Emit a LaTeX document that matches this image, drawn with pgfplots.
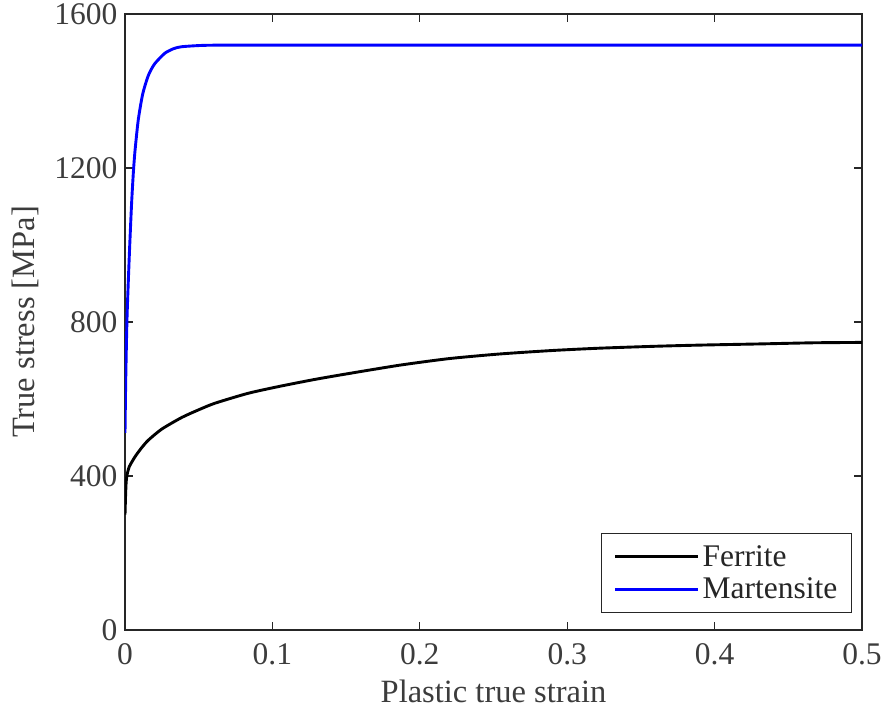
\documentclass[border=0pt]{standalone}
\usepackage{fontspec}
\setmainfont{Liberation Serif}
\usepackage{pgfplots}
\pgfplotsset{compat=1.18}
\definecolor{axgray}{RGB}{38,38,38}
\begin{document}
\begin{tikzpicture}
\begin{axis}[
  scale only axis,
  width=737pt, height=616pt,
  xmin=0, xmax=0.5, ymin=0, ymax=1600,
  xtick={0,0.1,0.2,0.3,0.4,0.5},
  ytick={0,400,800,1200,1600},
  xticklabels={0,0.1,0.2,0.3,0.4,0.5},
  yticklabels={0,400,800,1200,1600},
  tick align=inside,
  major tick length=8pt,
  tick style={axgray, line width=1.2pt},
  axis line style={axgray, line width=1.8pt},
  ticklabel style={font=\fontsize{31.5}{36}\selectfont, text=axgray!90},
  xticklabel style={yshift=-10pt},
  yticklabel style={xshift=-4pt},
  /pgf/number format/assume math mode=true,
  xlabel={Plastic true strain},
  ylabel={True stress [MPa]},
  label style={font=\fontsize{32.5}{38}\selectfont, text=axgray!90},
  xlabel style={yshift=-8pt},
  ylabel style={yshift=9pt},
  legend style={at={(0.9864,0.0276)}, anchor=south east,
    draw=axgray, line width=1.2pt, font=\fontsize{31.5}{36}\selectfont,
    text=axgray, inner xsep=12pt, inner ysep=10pt, row sep=6pt},
  legend cell align=left,
  legend image code/.code={\draw[#1, line width=3pt] (0pt,0pt) -- (83pt,0pt); \path (84pt,0pt);},
]
\addplot[black, line width=2.9pt, smooth, tension=0.4] coordinates {
(0,300) (0.0004,350) (0.0008,385) (0.0015,405) (0.003,425) (0.0068,450)
(0.011,472) (0.0158,493) (0.025,522) (0.0385,552) (0.05,572) (0.061,589)
(0.0837,615) (0.1063,634) (0.129,651) (0.15,665) (0.1866,688) (0.22,705)
(0.2544,717) (0.29,726) (0.322,732) (0.36,737) (0.39,740) (0.43,743)
(0.467,746) (0.5,747)
};
\addlegendentry{Ferrite}
\addplot[blue, line width=2.9pt, smooth, tension=0.4] coordinates {
(0,512) (0.0005,650) (0.0014,814) (0.003,980) (0.0045,1110) (0.0057,1190)
(0.0068,1245) (0.009,1325) (0.012,1392) (0.0158,1440) (0.02,1470)
(0.027,1498) (0.033,1510) (0.0384,1515) (0.05,1518) (0.061,1519)
(0.1,1519) (0.2,1519) (0.3,1519) (0.4,1519) (0.5,1519)
};
\addlegendentry{Martensite}
\end{axis}
\pgfresetboundingbox
\path[use as bounding box] ([shift={(-125pt,-88pt)}]current axis.south west) rectangle ([shift={(20pt,14pt)}]current axis.north east);
\end{tikzpicture}
\end{document}
